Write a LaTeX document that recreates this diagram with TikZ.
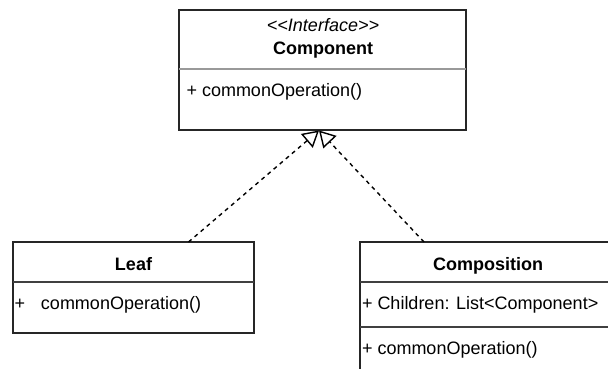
\documentclass[tikz,border=0pt]{standalone}
\usepackage{fontspec}
\setmainfont{Liberation Sans}
\usetikzlibrary{arrows.meta,calc}
\begin{document}
\begin{tikzpicture}[x=1pt,y=-1pt,
  umlbox/.style={draw=black!85, line width=1.4pt, anchor=north west,
    inner sep=0pt, outer sep=0pt},
  darksep/.style={line width=1.3pt, draw=black!75},
  lightsep/.style={line width=1.2pt, draw=black!40},
  txt/.style={inner sep=0pt, outer sep=0pt, font=\fontsize{18}{22}\selectfont},
  realizes/.style={line width=1.4pt, dash pattern=on 4pt off 4pt,
    -{Triangle[open, length=16pt, width=18pt]}}
]
\useasboundingbox (0,0) rectangle (608,369);
\clip (0,0) rectangle (608,369);

% interface box
\node[umlbox, minimum width=287pt, minimum height=120pt] (comp) at (179,10) {};
\draw[lightsep] ([yshift=-59pt]comp.north west) -- ([yshift=-59pt]comp.north east);
\node[txt, anchor=base] (stereo) at (323,32) {\itshape <\kern0pt<Interface>\kern0pt>};
\node[txt, anchor=base] (compname) at (323,54.5) {\bfseries Component};
\node[txt, anchor=base west] (compop) at (186.5,96.5) {+ commonOperation()};

% leaf box
\node[umlbox, minimum width=241pt, minimum height=91pt] (leaf) at (13,242) {};
\draw[darksep] ([yshift=-40pt]leaf.north west) -- ([yshift=-40pt]leaf.north east);
\node[txt, anchor=base] (leafname) at (133.5,270) {\bfseries Leaf};
\node[txt, anchor=base west] (leafop) at (14.5,309.5) {+\hspace{16pt}commonOperation()};

% composition box
\node[umlbox, minimum width=262pt, minimum height=150pt] (compo) at (360,242) {};
\draw[darksep] ([yshift=-40pt]compo.north west) -- ([yshift=-40pt]compo.north east);
\draw[darksep] ([yshift=-85pt]compo.north west) -- ([yshift=-85pt]compo.north east);
\node[txt, anchor=base] (componame) at (488,270) {\bfseries Composition};
\node[txt, anchor=base west] (compoattr) at (362,309.5) {+ Children: List<Component>};
\node[txt, anchor=base west] (compoop) at (362,354.5) {+ commonOperation()};

% realization connectors
\coordinate (tip) at ([xshift=-3.5pt,yshift=-0.5pt]comp.south);
\coordinate (leafend) at ([xshift=55pt]leaf.north);
\coordinate (compoend) at ([xshift=-67pt]compo.north);
\draw[realizes] (leafend) -- (tip);
\draw[realizes] (compoend) -- (tip);
\end{tikzpicture}
\end{document}
